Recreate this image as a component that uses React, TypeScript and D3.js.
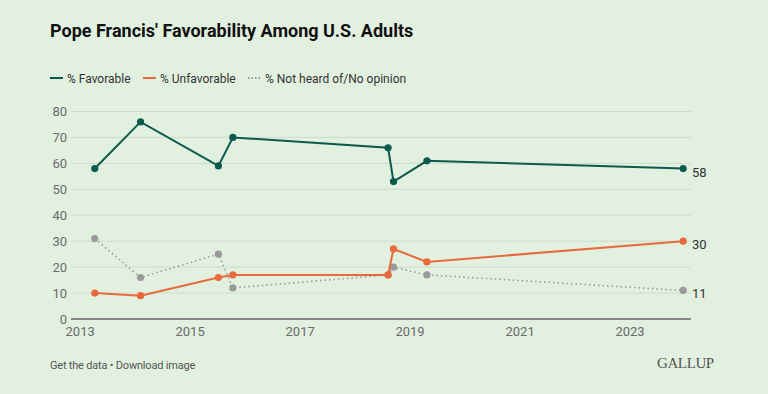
import React from 'react';
import * as d3 from 'd3';

// survey dates (year, month index, day)
const surveyDates: [number, number, number][] = [
  [2013, 3, 8],
  [2014, 1, 6],
  [2015, 6, 8],
  [2015, 9, 12],
  [2018, 7, 8],
  [2018, 8, 13],
  [2019, 3, 23],
  [2023, 11, 20],
];

const favorable = [58, 76, 59, 70, 66, 53, 61, 58];
const unfavorable = [10, 9, 16, 17, 17, 27, 22, 30];
const noOpinion = [31, 16, 25, 12, 17, 20, 17, 11];

const yTicks = [0, 10, 20, 30, 40, 50, 60, 70, 80];
const xTickYears = [2013, 2015, 2017, 2019, 2021, 2023];

const W = 768;
const H = 394;
const BG = '#e2f0e0';
const FONT = 'Roboto, "Noto Sans", sans-serif';

const seriesList = [
  { name: '% Not heard of/No opinion', values: noOpinion, color: '#9a9a9a', dashed: true },
  { name: '% Unfavorable', values: unfavorable, color: '#e8693b', dashed: false },
  { name: '% Favorable', values: favorable, color: '#0b5a4d', dashed: false },
];

const legendItems = [
  { name: '% Favorable', color: '#0b5a4d', dashed: false, x: 50 },
  { name: '% Unfavorable', color: '#e8693b', dashed: false, x: 143 },
  { name: '% Not heard of/No opinion', color: '#9a9a9a', dashed: true, x: 248 },
];

const App = () => {
  const dates = surveyDates.map(([y, m, d]) => new Date(y, m, d));

  const x = d3.scaleTime()
    .domain([new Date(2012, 10, 1), new Date(2024, 1, 10)])
    .range([71, 691]);
  const y = d3.scaleLinear().domain([0, 80]).range([319, 111.5]);

  const line = d3.line<number>()
    .x((_, i) => x(dates[i]))
    .y(d => y(d));

  return (
    <svg width={W} height={H} style={{ position: 'absolute', left: 0, top: 0, background: BG }}>
      <rect width={W} height={H} fill={BG} />
      <text x={50} y={37} fontFamily={FONT} fontWeight={700} fontSize={18} fill="#111">
        Pope Francis' Favorability Among U.S. Adults
      </text>

      {/* legend */}
      {legendItems.map(item => (
        <g key={item.name}>
          <line x1={item.x} x2={item.x + 13} y1={78} y2={78} stroke={item.color}
            strokeWidth={2} strokeDasharray={item.dashed ? '1.5 2' : undefined} />
          <text x={item.x + 17} y={82.5} fontFamily={FONT} fontSize={12} fill="#333">{item.name}</text>
        </g>
      ))}

      {/* grid */}
      {yTicks.map(t => (
        <g key={t}>
          {t > 0 && <line x1={71} x2={691} y1={y(t)} y2={y(t)} stroke="#cddccd" strokeWidth={1} />}
          <text x={67} y={y(t) + 4.5} textAnchor="end" fontFamily={FONT} fontSize={13} fill="#6a6a6a">{t}</text>
        </g>
      ))}
      <line x1={71} x2={691} y1={y(0)} y2={y(0)} stroke="#666" strokeWidth={1.5} />
      {xTickYears.map(yr => (
        <text key={yr} x={x(new Date(yr, 0, 1))} y={336} textAnchor="middle" fontFamily={FONT} fontSize={13} fill="#6a6a6a">{yr}</text>
      ))}

      {/* series */}
      {seriesList.map(s => (
        <g key={s.name}>
          <path d={line(s.values) ?? ''} fill="none" stroke={s.color}
            strokeWidth={s.dashed ? 1.6 : 2} strokeDasharray={s.dashed ? '1.5 3' : undefined} />
          {s.values.map((v, i) => (
            <circle key={i} cx={x(dates[i])} cy={y(v)} r={3.6} fill={s.color} />
          ))}
          <text x={692} y={y(s.values[s.values.length - 1]) + 8} fontFamily={FONT} fontSize={13} fill="#333">
            {s.values[s.values.length - 1]}
          </text>
        </g>
      ))}

      {/* footer */}
      <text x={50} y={369} fontFamily={FONT} fontSize={11} letterSpacing={-0.2} fill="#555">Get the data • Download image</text>
      <text x={657} y={368} fontFamily='"Liberation Serif", "DejaVu Serif", serif' fontSize={15} fill="#555" letterSpacing={-0.4}>
        GALLUP
      </text>
    </svg>
  );
};

export default App;
